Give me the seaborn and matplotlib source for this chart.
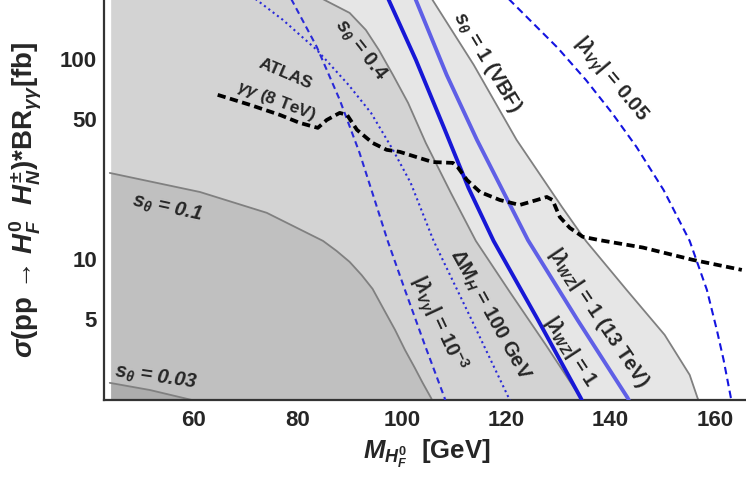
import matplotlib
matplotlib.use("Agg")
import matplotlib.pyplot as plt
import seaborn as sns
from matplotlib.ticker import FixedLocator, NullFormatter, FixedFormatter

# ---------------- data ----------------
# s_theta contours (gray boundaries of shaded regions)
s003_x = [44.0, 51.7, 59.4, 61.0]
s003_y = [2.40, 2.21, 1.98, 1.93]

s01_x = [44.0, 61.3, 74.1, 84.9, 87.5, 90.0, 92.3, 94.4, 96.5, 98.7, 100.6, 102.5, 104.0, 105.6, 106.3]
s01_y = [26.9, 21.6, 17.0, 12.3, 10.96, 9.66, 8.3, 7.08, 5.62, 4.42, 3.51, 2.85, 2.40, 2.02, 1.85]

s04_x = [79.0, 85.2, 90.0, 93.1, 95.6, 98.3, 101.2, 104.6, 109.4, 114.2, 120.7, 127.6, 134.3, 135.0]
s04_y = [240, 197, 169.8, 139.6, 110.9, 83.2, 60.3, 38.0, 21.4, 12.3, 6.84, 3.72, 2.02, 1.85]

s1_x = [103.8, 105.9, 113.8, 122.0, 130.7, 135.3, 143.1, 150.4, 155.2, 156.7, 157.3]
s1_y = [240, 197, 93.3, 39.4, 18.2, 12.3, 7.0, 4.17, 2.63, 2.02, 1.85]

# |lambda_WZ| = 1 (8 TeV, dark blue) and 13 TeV (light blue)
wz8_x = [96.1, 97.5, 102.7, 108.1, 112.8, 117.6, 125.9, 134.3, 135.0]
wz8_y = [240, 197, 98.9, 45.2, 22.6, 12.3, 5.07, 2.02, 1.85]

wz13_x = [101.3, 102.7, 108.6, 114.4, 124.2, 133.7, 143.3, 144.0]
wz13_y = [240, 197, 83.2, 39.4, 12.4, 4.95, 2.02, 1.85]

# |lambda_Vgamma| = 1e-3 (dashed and dotted)
vg3a_x = [77.1, 78.9, 83.7, 88.1, 91.9, 94.8, 97.3, 100.6, 104.4, 108.2, 108.6]
vg3a_y = [240, 197, 114.8, 62.4, 33.9, 19.7, 12.3, 7.0, 3.72, 2.02, 1.85]

vg3b_x = [67.9, 72.2, 77.2, 83.7, 89.8, 94.1, 98.3, 101.7, 106.1, 113.4, 120.5, 121.3]
vg3b_y = [240, 197, 156.7, 110.9, 74.1, 53.7, 35.1, 24.0, 12.3, 4.95, 2.02, 1.85]

# |lambda_Vgamma| = 0.05
vg05_x = [117.4, 120.7, 129.9, 135.3, 140.3, 145.0, 150.2, 155.2, 158.5, 160.4, 161.7, 163.1, 163.4]
vg05_y = [240, 197, 113.5, 78.5, 53.7, 36.3, 22.1, 12.3, 7.0, 4.42, 3.13, 2.02, 1.90]

# ATLAS gamma-gamma (8 TeV) limit
atlas_x = [64.7, 70.9, 76.6, 80.4, 83.9, 85.6, 88.1, 89.5, 91.4, 94.4, 97.1, 99.6, 101.5,
           105.9, 109.8, 110.7, 112.5, 115.0, 118.8, 122.6, 125.9, 127.8, 128.9, 130.3,
           132.2, 134.7, 138.0, 146.2, 155.8, 165.2]
atlas_y = [66.1, 58.9, 52.5, 47.9, 45.2, 49.5, 53.7, 52.5, 44.2, 38.0, 35.1, 34.3, 33.1,
           30.5, 30.2, 28.8, 24.8, 21.6, 19.7, 18.6, 19.7, 20.4, 19.7, 16.2,
           14.3, 12.9, 12.4, 11.4, 9.89, 8.81]

x_major = [60, 80, 100, 120, 140, 160]
x_minor = [45, 50, 55, 65, 70, 75, 85, 90, 95, 105, 110, 115, 125, 130, 135, 145, 150, 155, 165]
y_major = [5, 10, 50, 100]
y_major_labels = ["5", "10", "50", "100"]
y_minor = [2, 3, 4, 6, 7, 8, 9, 20, 30, 40, 60, 70, 80, 90]

# ---------------- style ----------------
sns.set_theme(style="white")
plt.rcParams['font.family'] = ['Liberation Sans', 'DejaVu Sans']
plt.rcParams['font.weight'] = 'bold'
plt.rcParams['axes.labelweight'] = 'bold'
plt.rcParams['mathtext.fontset'] = 'custom'
plt.rcParams['mathtext.rm'] = 'Liberation Sans:bold'
plt.rcParams['mathtext.it'] = 'Liberation Sans:bold:italic'
plt.rcParams['mathtext.bf'] = 'Liberation Sans:bold'
plt.rcParams['mathtext.sf'] = 'Liberation Sans:bold'

fig = plt.figure(figsize=(7.46, 4.82), dpi=100)
ax = fig.add_axes([104 / 746, 82 / 482, 642 / 746, 400 / 482])
ax.set_yscale('log')

FILL_X0 = 44.2
ax.fill_betweenx(s1_y, FILL_X0, s1_x, color='#e6e6e6', lw=0, zorder=1)
ax.fill_betweenx(s04_y, FILL_X0, s04_x, color='#d3d3d3', lw=0, zorder=1.1)
ax.fill_betweenx(s01_y, FILL_X0, s01_x, color='#c0c0c0', lw=0, zorder=1.2)
ax.fill_betweenx(s003_y, FILL_X0, s003_x, color='#adadad', lw=0, zorder=1.3)


def line(x, y, color, lw, ls='-', z=3):
    sns.lineplot(x=x, y=y, color=color, lw=lw, linestyle=ls, sort=False,
                 estimator=None, ax=ax, zorder=z)


GRAY = '#808080'
for xs, ys in [(s003_x, s003_y), (s01_x, s01_y), (s04_x, s04_y), (s1_x, s1_y)]:
    line(xs, ys, GRAY, 1.3, '-', 2)

line(vg3b_x, vg3b_y, '#2a2ad8', 1.5, (0, (1.0, 1.6)), 3)
line(vg3a_x, vg3a_y, '#2a2ad8', 1.5, (0, (3.0, 2.0)), 3)
line(vg05_x, vg05_y, '#1414e0', 1.5, (0, (3.6, 2.2)), 3)
line(wz8_x, wz8_y, '#1717d6', 2.8, '-', 3.2)
line(wz13_x, wz13_y, '#5f5fe6', 2.8, '-', 3.1)
line(atlas_x, atlas_y, 'black', 2.7, (0, (2.2, 1.2)), 4)

ax.set_xlim(42.9, 166.0)
ax.set_ylim(1.97, 197)

# ---------------- annotations ----------------
tk = dict(ha='center', va='center', rotation_mode='anchor', fontsize=14.5, zorder=6)
tks = dict(tk, fontsize=12.5)
ax.text(52.9, 2.57, r"$s_\theta$ = 0.03", rotation=-8, style='italic', **tk)
ax.text(55.0, 18.0, r"$s_\theta$ = 0.1", rotation=-12, style='italic', **tk)
ax.text(92.1, 110.9, r"$s_\theta$ = 0.4", rotation=-52, **tk)
ax.text(116.3, 96.6, r"$s_\theta$ = 1 (VBF)", rotation=-59, **tk)
ax.text(139.9, 78.5, r"$|\lambda_{V\gamma}|$ = 0.05", rotation=-50, **tk)
ax.text(77.6, 84.1, "ATLAS", rotation=-23, **tks)
ax.text(76.0, 61.7, r"$\gamma\gamma$ (8 TeV)", rotation=-21, **tks)
ax.text(116.9, 5.25, r"$\Delta$M$_H$ = 100 GeV", rotation=-61, **tk)
ax.text(106.9, 4.73, r"$|\lambda_{V\gamma}|$ = 10$^{-3}$", rotation=-65, **tk)
ax.text(132.4, 3.43, r"$|\lambda_{WZ}|$ = 1", rotation=-57, **tk)
ax.text(137.6, 5.07, r"$|\lambda_{WZ}|$ = 1 (13 TeV)", rotation=-56, **tk)

# ---------------- axes ----------------
for s in ['top', 'right']:
    ax.spines[s].set_visible(False)
for s in ['left', 'bottom']:
    ax.spines[s].set_color('#333333')
    ax.spines[s].set_linewidth(1.6)

ax.xaxis.set_major_locator(FixedLocator(x_major))
ax.xaxis.set_minor_locator(FixedLocator(x_minor))
ax.xaxis.set_minor_formatter(NullFormatter())
ax.yaxis.set_major_locator(FixedLocator(y_major))
ax.yaxis.set_major_formatter(FixedFormatter(y_major_labels))
ax.yaxis.set_minor_locator(FixedLocator(y_minor))
ax.yaxis.set_minor_formatter(NullFormatter())

ax.tick_params(which='both', direction='in', color='#333333', width=1.0, labelsize=16)
ax.tick_params(which='major', length=5)
ax.tick_params(which='minor', length=3)
ax.tick_params(axis='x', which='both', pad=7)
ax.tick_params(axis='y', which='both', pad=5)

ax.set_xlabel(r"$M_{H_F^0}$  [GeV]", fontsize=18.5)
ax.set_ylabel(r"$\sigma$(pp → $H_F^0$  $H_N^{\pm}$)*BR$_{\gamma\gamma}$[fb]", fontsize=20)
ax.xaxis.set_label_coords(0.503, -0.095)
ax.yaxis.set_label_coords(-0.093, 0.5)
ax.grid(False)
ax.set_facecolor('white')

fig.savefig('out.png', dpi=100)
